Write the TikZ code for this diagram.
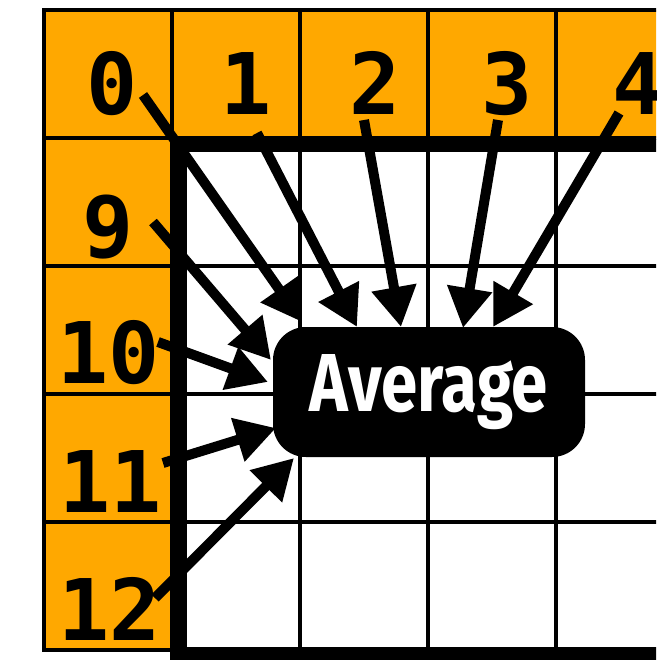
\documentclass[tikz,border=0pt]{standalone}
\usepackage{fontspec}
\usepackage{graphicx}
\usetikzlibrary{arrows.meta}
\newfontfamily\digitfont{DejaVu Sans Mono}
\newfontfamily\avgfont{Fira Sans}
\definecolor{cellorange}{RGB}{255,168,0}
\begin{document}
\begin{tikzpicture}[x=1pt,y=-1pt,
  gridline/.style={line width=4.5pt, line cap=rect},
  thickborder/.style={line width=13pt, line join=miter},
  lbl/.style={font=\digitfont\bfseries\fontsize{85}{85}\selectfont, inner sep=0pt, anchor=base},
  feed/.style={line width=10pt, -{Triangle[length=40pt,width=43pt]}},
  avgbox/.style={fill=black, text=white, rounded corners=33pt, minimum width=312pt, minimum height=130pt, inner sep=0pt}]
\useasboundingbox (0,0) rectangle (656,660);
\clip (0,0) rectangle (656,660);
% orange header cells
\fill[cellorange] (44,10) rectangle (700,138);
\fill[cellorange] (44,10) rectangle (172,650);
% thin grid
\foreach \y in {10,138,266,394,522} \draw[gridline] (44,\y) -- (700,\y);
\draw[gridline] (44,650) -- (180,650);
\draw[gridline] (44,10) -- (44,650);
\foreach \x in {172,300,428,556} \draw[gridline] (\x,10) -- (\x,660);
% thick border of the inner region
\draw[thickborder] (700,146) -- (180,146) -- (180,653) -- (700,653);
% average box
\node[avgbox] (avg) at (429,392) {\resizebox{238pt}{57pt}{\avgfont\bfseries Average}};
% labels
\node[lbl] (l0) at (112,115) {0};
\node[lbl] (l1) at (246,115) {1};
\node[lbl] (l2) at (375,115) {2};
\node[lbl] (l3) at (507,115) {3};
\node[lbl] (l4) at (638,115) {4};
\node[lbl] (l9) at (108,257) {9};
\node[lbl] (l10) at (109,383) {10};
\node[lbl] (l11) at (111,512) {11};
\node[lbl] (l12) at (110,640) {12};
% arrow ends
\coordinate (s0) at (143,95);  \coordinate (t0) at (302,322);
\coordinate (s1) at (257,133); \coordinate (t1) at (357,327);
\coordinate (s2) at (364,120); \coordinate (t2) at (401,327);
\coordinate (s3) at (498,120); \coordinate (t3) at (463,328);
\coordinate (s4) at (619,113); \coordinate (t4) at (493,327);
\coordinate (s9) at (153,222); \coordinate (t9) at (271,360);
\coordinate (s10) at (158,342); \coordinate (t10) at (268,382);
\coordinate (s11) at (163,463); \coordinate (t11) at (276,428);
\coordinate (s12) at (155,598); \coordinate (t12) at (294,458);
\foreach \i in {0,1,2,3,4,9,10,11,12} \draw[feed] (s\i) -- (t\i);
\end{tikzpicture}
\end{document}
